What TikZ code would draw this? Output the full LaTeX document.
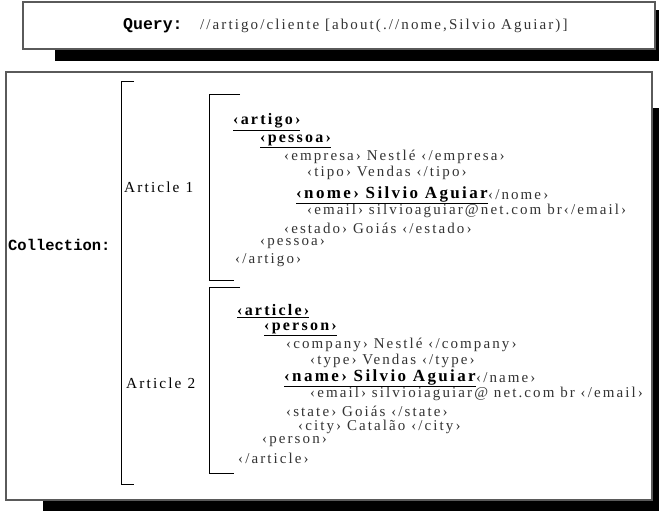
\documentclass[tikz,border=0pt]{standalone}
\usepackage{fontspec}
\setmainfont{Liberation Serif}
\newfontfamily\xmlfont[LetterSpace=14]{Liberation Serif}
\newfontfamily\codefont{Liberation Mono}
\definecolor{xmlgray}{HTML}{333333}
\definecolor{framegray}{HTML}{5A5A5A}

\tikzset{
  xmltxt/.style={anchor=west,inner sep=0pt,text=xmlgray,font=\xmlfont\fontsize{15}{16}\selectfont},
  xmltag/.style={anchor=west,inner sep=0pt,text=black,font=\xmlfont\bfseries\fontsize{16}{17}\selectfont},
  xmlname/.style={anchor=west,inner sep=0pt,text=black,font=\xmlfont\bfseries\fontsize{17}{18}\selectfont},
  codetxt/.style={anchor=west,inner sep=0pt,font=\codefont\bfseries\fontsize{15.5}{17}\selectfont},
  arttxt/.style={anchor=west,inner sep=0pt,font=\xmlfont\fontsize{15.3}{17}\selectfont},
  bracket/.style={draw=black,line width=0.9pt},
  framebox/.style={draw=framegray,fill=white,line width=1.1pt},
}

\begin{document}
\begin{tikzpicture}[x=1pt,y=-1pt]

  \useasboundingbox (0,0) rectangle (659,511);
  \clip (0,0) rectangle (659,511);

  % shadows and boxes
  \fill[black] (55,10) rectangle (680,61);
  \draw[framebox] (23,2) rectangle (655,49);
  \fill[black] (43,108) rectangle (680,530);
  \draw[framebox] (6,72) rectangle (652,500);

  % query
  \node[codetxt,font=\codefont\bfseries\fontsize{16.5}{18}\selectfont] (q) at (123,26) {Query:};
  \node[xmltxt] (qexpr) at (200,26) {//artigo/cliente [about(.//nome,Silvio Aguiar)]};

  % brackets
  \draw[bracket] (134,81) -- (121,81) -- (121,484) -- (134,484);
  \draw[bracket] (240,94) -- (209,94) -- (209,280) -- (234,280);
  \draw[bracket] (240,287) -- (209,287) -- (209,473) -- (234,473);

  \node[codetxt] (coll) at (8,245) {Collection:};
  \node[arttxt] (art1) at (124,187) {Article 1};
  \node[arttxt] (art2) at (126,383) {Article 2};

  % article 1
  \node[xmltag] (a1) at (233,122) {\underline{‹artigo›}};
  \node[xmltag] (a2) at (260,141) {\underline{‹pessoa›}};
  \begin{scope}[every node/.style={xmltxt}]
    \node (a3) at (284,157) {‹empresa› Nestlé ‹/empresa›};
    \node (a4) at (307,173) {‹tipo› Vendas ‹/tipo›};
    \node (a6) at (307,211) {‹email› silvioaguiar@net.com br‹/email›};
    \node (a7) at (284,228) {‹estado› Goiás ‹/estado›};
    \node (a8) at (260,244) {‹pessoa›};
    \node (a9) at (235,260) {‹/artigo›};
  \end{scope}
  \node[xmlname] (a5) at (296,195) {\underline{‹nome› Silvio Aguiar}};
  \node[xmltxt] (a5e) at (a5.east) {‹/nome›};

  % article 2
  \node[xmltag] (b1) at (237,311) {\underline{‹article›}};
  \node[xmltag] (b2) at (264,329) {\underline{‹person›}};
  \begin{scope}[every node/.style={xmltxt}]
    \node (b3) at (286,345) {‹company› Nestlé ‹/company›};
    \node (b4) at (310,361) {‹type› Vendas ‹/type›};
    \node (b6) at (310,394) {‹email› silvioiaguiar@ net.com br ‹/email›};
    \node (b7) at (286,411) {‹state› Goiás ‹/state›};
    \node (b8) at (298,427) {‹city› Catalão ‹/city›};
    \node (b9) at (262,442) {‹person›};
    \node (b10) at (238,458) {‹/article›};
  \end{scope}
  \node[xmlname] (b5) at (284,378) {\underline{‹name› Silvio Aguiar}};
  \node[xmltxt] (b5e) at (b5.east) {‹/name›};

\end{tikzpicture}
\end{document}
